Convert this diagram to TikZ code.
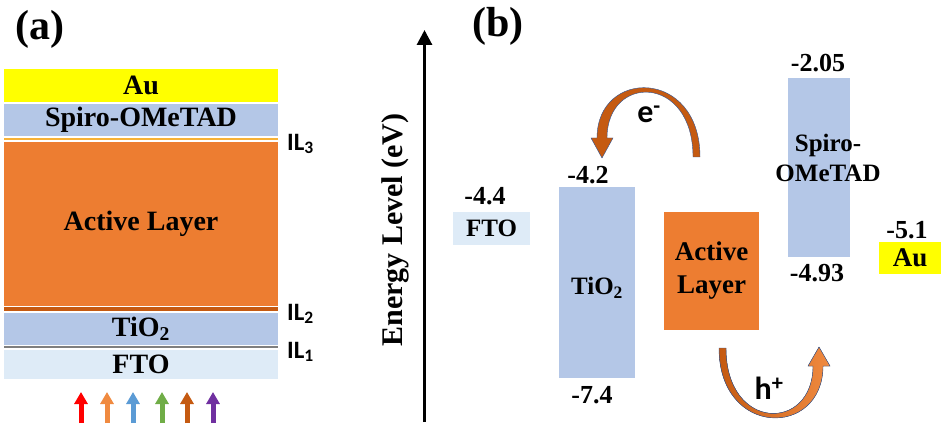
\documentclass[tikz,border=0pt]{standalone}
\usepackage{fontspec}
\setmainfont{Liberation Serif}
\newfontfamily\calfont{Carlito}
\usetikzlibrary{arrows.meta}

\definecolor{auyellow}{HTML}{FFFF00}
\definecolor{spiroblue}{HTML}{B4C7E7}
\definecolor{ftoblue}{HTML}{DEEBF7}
\definecolor{actorange}{HTML}{ED7D31}
\definecolor{darkorange}{HTML}{C55A11}
\definecolor{goldline}{HTML}{F7B136}
\definecolor{ilgray}{HTML}{7F7F7F}
\definecolor{rimblue}{HTML}{2F5597}
\definecolor{lred}{HTML}{FF0000}
\definecolor{lorange}{HTML}{F08A40}
\definecolor{lblue}{HTML}{5B9BD5}
\definecolor{lgreen}{HTML}{70AD47}
\definecolor{lbrown}{HTML}{C55A11}
\definecolor{lpurple}{HTML}{7030A0}

\tikzset{
    layer/.style={rectangle, inner sep=0pt, minimum width=274pt,
        font=\fontsize{28}{30}\selectfont\bfseries},
    band/.style={rectangle, inner sep=0pt,
        font=\fontsize{25}{30}\selectfont\bfseries},
    level/.style={inner sep=0pt, font=\fontsize{26}{28}\selectfont\bfseries},
    iflabel/.style={inner sep=0pt, anchor=west,
        font=\calfont\fontsize{25}{27}\selectfont\bfseries},
    carrier/.style={inner sep=0pt, font=\calfont\fontsize{32}{34}\selectfont\bfseries},
    panel/.style={inner sep=0pt, font=\fontsize{42}{44}\selectfont\bfseries},
    lightup/.style={line width=5pt, -{Triangle[width=13pt,length=12pt]}},
}

\begin{document}
\begin{tikzpicture}[x=1pt, y=-1pt]
                \useasboundingbox (0,0) rectangle (944,427);

                \node[panel] (pa) at (40,29) {(a)};
                \node[panel] (pb) at (498,26) {(b)};

                \node[layer, fill=auyellow, minimum height=33pt] (au) at (141,85.5) {Au};
                \node[layer, fill=spiroblue, minimum height=32pt] (spiro) at (141,120) {Spiro-OMeTAD};
                \node[layer, fill=goldline, minimum height=2.5pt] (il3) at (141,139) {};
                \node[layer, fill=actorange, minimum height=164pt] (act) at (141,224) {Active Layer};
                \node[layer, fill=darkorange, minimum height=3.4pt] (il2) at (141,309) {};
                \node[layer, fill=spiroblue, minimum height=32pt] (tio) at (141,329) {TiO\textsubscript{2}};
                \node[layer, fill=ilgray, minimum height=2.6pt] (il1) at (141,347) {};
                \node[layer, fill=ftoblue, minimum height=29pt] (fto) at (141,364.5) {FTO};

                \node[iflabel] (l3) at (287,144) {IL\textsubscript{3}};
                \node[iflabel] (l2) at (287,314) {IL\textsubscript{2}};
                \node[iflabel] (l1) at (287,352) {IL\textsubscript{1}};

                \foreach \x/\c in {81/lred, 107/lorange, 133/lblue, 162/lgreen, 187/lbrown, 213/lpurple}
                    \draw[lightup, \c] (\x,423) -- (\x,392);

                \coordinate (ax0) at (424.5,422);
                \coordinate (ax1) at (424.5,30);
                \draw[line width=3pt, -{Triangle[width=15pt,length=15pt]}] (ax0) -- (ax1);
                \node[rotate=90, inner sep=0pt, font=\fontsize{30}{32}\selectfont\bfseries] (elabel) at (395,230) {Energy Level (eV)};

                \node[band, fill=ftoblue, minimum width=77pt, minimum height=33pt] (fto2) at (491.5,228.5) {FTO};
                \node[band, fill=spiroblue, minimum width=76pt, minimum height=191pt] (tio2) at (597,282.5) {};
                \node[band] (tio2t) at (597,288) {TiO\textsubscript{2}};
                \node[band, fill=actorange, minimum width=95pt, minimum height=118pt, align=center,
                    font=\fontsize{27}{33}\selectfont\bfseries] (act2) at (711.5,271) {Active\\Layer};
                \node[band, fill=spiroblue, minimum width=62pt, minimum height=179pt] (spiro2) at (819,167.5) {};
                \node[band, align=center] (spiro2t) at (828,158) {Spiro-\\OMeTAD};
                \node[band, fill=auyellow, minimum width=62pt, minimum height=32pt,
                    font=\fontsize{27}{30}\selectfont\bfseries] (au2) at (910,258) {Au};

                \node[level] (v44) at (485,196) {-4.4};
                \node[level] (v42) at (588,175) {-4.2};
                \node[level] (v74) at (592,395) {-7.4};
                \node[level] (v205) at (818,63) {-2.05};
                \node[level] (v493) at (817,273) {-4.93};
                \node[level] (v51) at (907,230) {-5.1};

                \filldraw[fill=darkorange, draw=rimblue, line width=0.4pt]
                    (700,157) .. controls (700,68) and (597,68) .. (597,138)
                    -- (591,138) -- (602,158) -- (613,138) -- (607,138)
                    .. controls (607,74) and (693,74) .. (693,157) -- cycle;
                \filldraw[left color=darkorange, right color=lorange, draw=rimblue, line width=0.4pt]
                    (719,348) .. controls (719,438) and (823,438) .. (823,366)
                    -- (830,366) -- (819,347) -- (808,366) -- (813,366)
                    .. controls (813,432) and (726,432) .. (726,348) -- cycle;

                \node[carrier] (elec) at (649,114) {e\textsuperscript{-}};
                \node[carrier] (hole) at (769,388) {h\textsuperscript{+}};
\end{tikzpicture}
\end{document}
